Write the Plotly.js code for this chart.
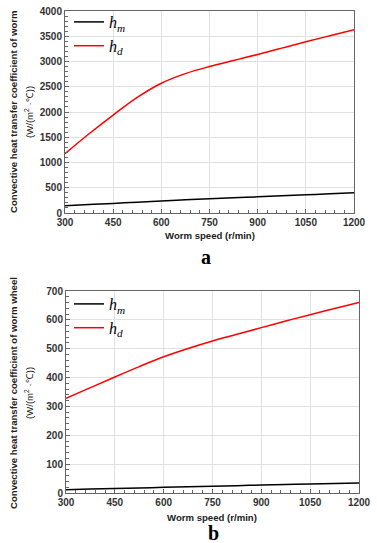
<!DOCTYPE html>
<html><head><meta charset="utf-8">
<script src="https://cdn.plot.ly/plotly-3.0.1.min.js"></script>
<style>html,body{margin:0;padding:0;background:#fff}#c{width:377px;height:543px}</style>
</head><body><div id="c"></div>
<script>
const speed = [300, 375, 450, 525, 600, 675, 750, 825, 900, 975, 1050, 1125, 1200];
const wormHm = [145, 167, 190, 215, 240, 260, 280, 300, 320, 340, 360, 380, 402];
const wormHd = [1175, 1570, 1940, 2290, 2570, 2760, 2900, 3020, 3140, 3265, 3390, 3510, 3630];
const wheelHm = [11.5, 13.5, 15.5, 17.5, 19.5, 21.5, 23.5, 25.5, 27.5, 29.5, 31.5, 33, 34.5];
const wheelHd = [328, 365, 402, 438, 472, 501, 527, 550, 573, 596, 618, 639, 660];
const xTicks = [300, 450, 600, 750, 900, 1050, 1200];
const yTicksA = [0, 500, 1000, 1500, 2000, 2500, 3000, 3500, 4000];
const yTicksB = [0, 100, 200, 300, 400, 500, 600, 700];
const nameM = '<i>h</i><sub><i>m</i></sub>';
const nameD = '<i>h</i><sub><i>d</i></sub>';
const yTitleA = 'Convective heat transfer coefficient of worm';
const yTitleB = 'Convective heat transfer coefficient of worm wheel';
const yUnit = '(W/(m<sup>2</sup> ·℃))';
const xTitle = 'Worm speed (r/min)';

const W = 377, H = 543;
const px = v => v / W, py = v => 1 - v / H;

const traces = [
  {x: speed, y: wormHm, name: nameM, mode: 'lines', line: {color: '#000', width: 1.5, shape: 'spline'}, xaxis: 'x', yaxis: 'y', legend: 'legend'},
  {x: speed, y: wormHd, name: nameD, mode: 'lines', line: {color: '#ff0000', width: 1.5, shape: 'spline'}, xaxis: 'x', yaxis: 'y', legend: 'legend'},
  {x: speed, y: wheelHm, name: nameM, mode: 'lines', line: {color: '#000', width: 1.5, shape: 'spline'}, xaxis: 'x2', yaxis: 'y2', legend: 'legend2'},
  {x: speed, y: wheelHd, name: nameD, mode: 'lines', line: {color: '#ff0000', width: 1.5, shape: 'spline'}, xaxis: 'x2', yaxis: 'y2', legend: 'legend2'}
];

const tickFont = {family: 'Liberation Sans, Arial', size: 10, color: '#333', weight: 'bold'};
function xax(dom, anchor) {
  return {domain: dom, anchor: anchor, range: [300, 1200], tickvals: xTicks, ticktext: xTicks.map(String),
    showline: true, linecolor: '#666', linewidth: 1, mirror: true, ticks: 'inside', ticklen: 4, tickcolor: '#666',
    showgrid: true, gridcolor: '#e0e0e0', gridwidth: 1, zeroline: false, tickfont: tickFont,
    minor: {dtick: 30, tick0: 300, ticks: 'inside', ticklen: 3, tickcolor: '#666', showgrid: false}, fixedrange: true};
}
function yax(dom, anchor, rng, vals, mdt) {
  return {domain: dom, anchor: anchor, range: rng, tickvals: vals, ticktext: vals.map(String),
    showline: true, linecolor: '#666', linewidth: 1, mirror: true, ticks: 'inside', ticklen: 4, tickcolor: '#666',
    showgrid: true, gridcolor: '#e0e0e0', gridwidth: 1, zeroline: false, tickfont: tickFont,
    minor: {dtick: mdt, tick0: 0, ticks: 'inside', ticklen: 3, tickcolor: '#666', showgrid: false}, fixedrange: true};
}
const titleFont = {family: 'Liberation Sans, Arial', size: 9.6, color: '#222', weight: 'bold'};
const ann = (x, y, text, extra) => Object.assign({xref: 'paper', yref: 'paper', x: px(x), y: py(y), text: text, showarrow: false, xanchor: 'center', yanchor: 'middle', font: titleFont}, extra || {});

const legFont = {family: 'Liberation Serif, Times New Roman', size: 16, color: '#000'};
const layout = {
  width: W, height: H, margin: {l: 0, r: 0, t: 0, b: 0}, paper_bgcolor: '#fff', plot_bgcolor: '#fff',
  showlegend: true,
  xaxis: xax([px(65), px(354)], 'y'),
  yaxis: yax([py(213), py(11)], 'x', [0, 4000], yTicksA, 100),
  xaxis2: xax([px(66), px(359)], 'y2'),
  yaxis2: yax([py(493), py(291)], 'x2', [0, 700], yTicksB, 20),
  legend: {x: px(69), y: py(5), xanchor: 'left', yanchor: 'top', bgcolor: 'rgba(0,0,0,0)', font: legFont, itemwidth: 30, tracegroupgap: 0},
  legend2: {x: px(69), y: py(287), xanchor: 'left', yanchor: 'top', bgcolor: 'rgba(0,0,0,0)', font: legFont, itemwidth: 30, tracegroupgap: 0},
  annotations: [
    ann(13, 112, yTitleA, {textangle: -90}),
    ann(29, 112, yUnit, {textangle: -90, font: Object.assign({}, titleFont, {weight: 'normal'})}),
    ann(210, 235, xTitle),
    ann(206, 257, 'a', {font: {family: 'Liberation Serif, Times New Roman', size: 20, color: '#000', weight: 'bold'}}),
    ann(13, 393, yTitleB, {textangle: -90}),
    ann(29, 393, yUnit, {textangle: -90, font: Object.assign({}, titleFont, {weight: 'normal'})}),
    ann(212, 517, xTitle),
    ann(213, 533, 'b', {font: {family: 'Liberation Serif, Times New Roman', size: 20, color: '#000', weight: 'bold'}})
  ]
};
Plotly.newPlot('c', traces, layout, {displayModeBar: false, staticPlot: true});
</script></body></html>
